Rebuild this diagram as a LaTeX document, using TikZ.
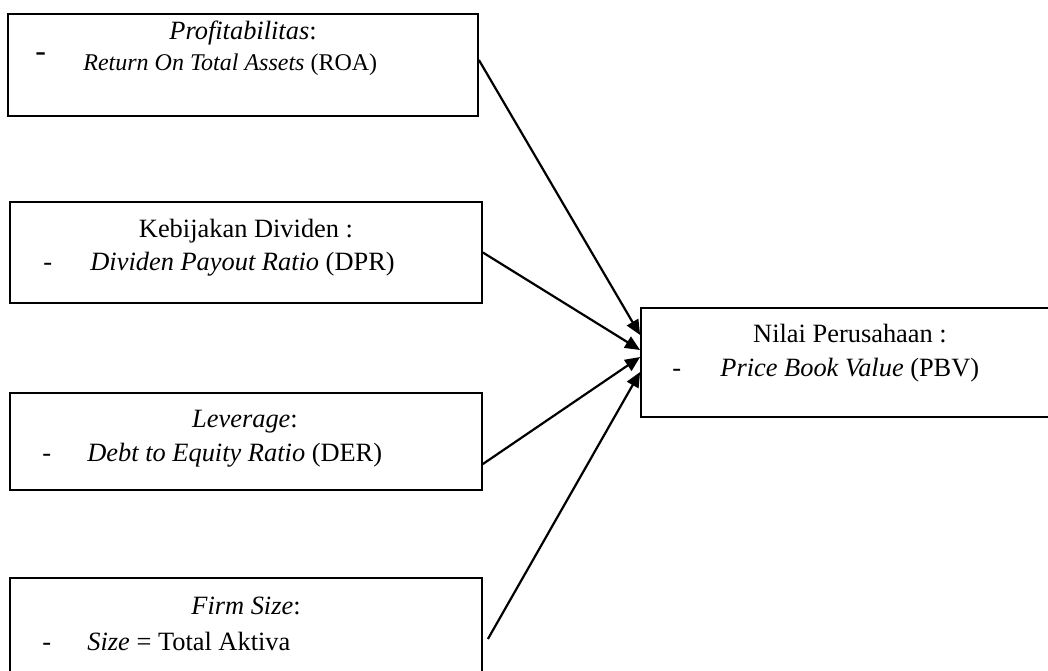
\documentclass[tikz,border=0pt]{standalone}
\usepackage{fontspec}
\setmainfont{Liberation Serif}
\usetikzlibrary{arrows.meta,calc}
\begin{document}
\begin{tikzpicture}[x=0.5pt,y=-0.5pt,
  box/.style={draw, line width=0.9pt, rectangle, inner sep=0pt},
  txt/.style={inner sep=0pt, font=\fontsize{13.2}{16}\selectfont},
  smalltxt/.style={inner sep=0pt, font=\fontsize{12}{14}\selectfont},
  bigdash/.style={inner sep=0pt, font=\fontsize{16}{16}\selectfont},
  arr/.style={line width=1.1pt, -{Triangle[length=7.5pt,width=6.5pt]}}]
\clip (0,0) rectangle (1048,670);
% boxes
\node[box, minimum width=235pt, minimum height=51pt] (b1) at (243,65) {};
\node[box, minimum width=236pt, minimum height=50.5pt] (b2) at (246,252.5) {};
\node[box, minimum width=236pt, minimum height=48.5pt] (b3) at (246,441.5) {};
\node[box, minimum width=236pt, minimum height=65pt] (b4) at (246,643) {};
\node[box, minimum width=209.5pt, minimum height=54.5pt] (pbv) at (850.5,362.5) {};
% texts box 1
\node[txt, anchor=base] (t1a) at (243,39) {\textit{Profitabilitas}:};
\node[bigdash, anchor=base west] (t1d) at (35,61) {-};
\node[smalltxt, anchor=base west] (t1b) at (83,70) {\textit{Return On Total Assets} (ROA)};
% box 2
\node[txt, anchor=base] (t2a) at (246,237) {Kebijakan Dividen :};
\node[txt, anchor=base west] (t2d) at (43,270) {-};
\node[txt, anchor=base west] (t2b) at (90,270) {\textit{Dividen Payout Ratio} (DPR)};
% box 3
\node[txt, anchor=base] (t3a) at (245,427) {\textit{Leverage}:};
\node[txt, anchor=base west] (t3d) at (42,461) {-};
\node[txt, anchor=base west] (t3b) at (87,461) {\textit{Debt to Equity Ratio} (DER)};
% box 4
\node[txt, anchor=base] (t4a) at (246,614) {\textit{Firm Size}:};
\node[txt, anchor=base west] (t4d) at (42,650) {-};
\node[txt, anchor=base west] (t4b) at (87,650) {\textit{Size} = Total Aktiva};
% right box
\node[txt, anchor=base] (t5a) at (850,342) {Nilai Perusahaan :};
\node[txt, anchor=base west] (t5d) at (672,376) {-};
\node[txt, anchor=base west] (t5b) at (720,376) {\textit{Price Book Value} (PBV)};
% arrows
\draw[arr] ([yshift=2.5pt]b1.east) -- (pbv.west |- 0,335);
\draw[arr] (b2.east) -- (pbv.west |- 0,350);
\draw[arr] (b3.east |- 0,464) -- (pbv.west |- 0,357);
\draw[arr] ($(b4.east |- 0,639)+(5,0)$) -- (pbv.west |- 0,372);
\end{tikzpicture}
\end{document}
